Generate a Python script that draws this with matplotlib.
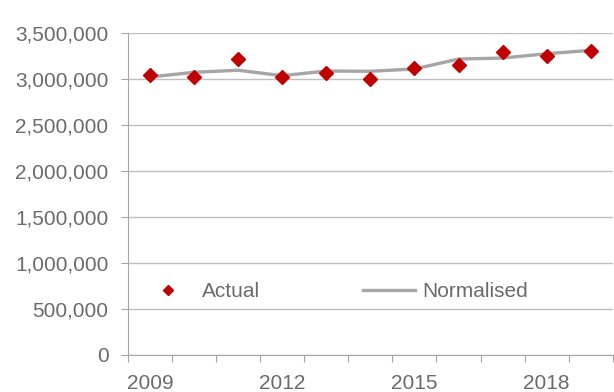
# %% imports
import matplotlib.pyplot as plt
from matplotlib.ticker import FuncFormatter, MultipleLocator

plt.rcParams['font.family'] = ['Liberation Sans', 'DejaVu Sans']

# %% data
years = [2009, 2010, 2011, 2012, 2013, 2014, 2015, 2016, 2017, 2018, 2019]
actual = [3043000, 3028000, 3217000, 3025000, 3068000, 3003000,
          3126000, 3152000, 3300000, 3257000, 3311000]
normalised = [3025000, 3076000, 3098000, 3039000, 3090000, 3087000,
              3112000, 3220000, 3231000, 3278000, 3315000]
tick_years = [2009, 2012, 2015, 2018]

# %% plot
text_col = '#6b6b6b'
axis_col = '#a6a6a6'
fs = 15

fig = plt.figure(figsize=(6.14, 3.92), dpi=100)
ax = fig.add_axes([0.2085, 0.0944, 0.7895, 0.8206])

x = list(range(len(years)))
ax.plot(x, normalised, color='#a6a6a6', lw=2.4, label='Normalised', zorder=2)
ax.plot(x, actual, ls='none', marker='D', ms=7.5, color='#c00000',
        label='Actual', zorder=3)

ax.set_xlim(-0.5, len(years) - 0.5)
ax.set_ylim(0, 3500000)
ax.yaxis.set_major_locator(MultipleLocator(500000))
ax.yaxis.set_major_formatter(FuncFormatter(lambda v, p: f'{int(v):,}'))
ax.grid(axis='y', color='#bfbfbf', lw=1)
ax.set_axisbelow(True)

# category axis: ticks between categories, labels on some categories
ax.set_xticks([i - 0.5 for i in range(len(years) + 1)])
ax.set_xticklabels([])
ax.set_xticks([years.index(y) for y in tick_years], minor=True)
ax.set_xticklabels([str(y) for y in tick_years], minor=True)
ax.tick_params(axis='x', which='minor', length=0, pad=13.5)
ax.tick_params(axis='x', which='major', length=5, color=axis_col)
ax.tick_params(axis='y', length=5, color=axis_col, pad=9)
ax.tick_params(axis='both', which='both', labelsize=fs, labelcolor=text_col)

for s in ['top', 'right']:
    ax.spines[s].set_visible(False)
for s in ['left', 'bottom']:
    ax.spines[s].set_color(axis_col)

handles, labels = ax.get_legend_handles_labels()
leg = ax.legend(handles[::-1], labels[::-1], ncol=2, frameon=False,
                loc='center', bbox_to_anchor=(0.427, 0.196),
                fontsize=fs, handlelength=2.5, handletextpad=0.35,
                columnspacing=4.95, markerscale=0.7)
for t in leg.get_texts():
    t.set_color(text_col)

fig.savefig('out.png', dpi=100)
